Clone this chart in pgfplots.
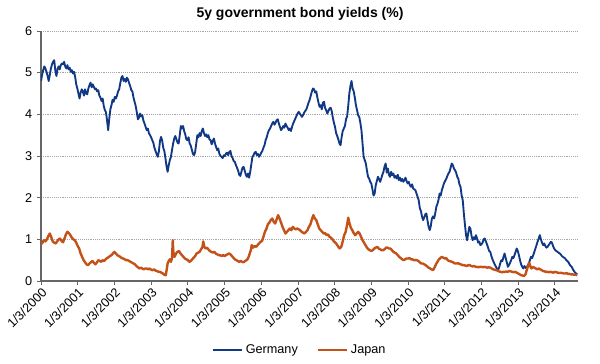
\documentclass[border=0pt]{standalone}
\usepackage{fontspec}
\setmainfont{Liberation Sans}
\usepackage{pgfplots}
\pgfplotsset{compat=1.18}
\definecolor{deblue}{RGB}{16,56,132}
\definecolor{jporange}{RGB}{196,82,24}
\begin{document}
\begin{tikzpicture}
\begin{axis}[
  scale only axis,
  width=402.75pt, height=187.5pt,
  xmin=2000, xmax=2014.63,
  ymin=0, ymax=6,
  ytick={0,1,2,3,4,5,6},
  xtick={2000,2001,2002,2003,2004,2005,2006,2007,2008,2009,2010,2011,2012,2013,2014},
  xticklabels={1/3/2000,1/3/2001,1/3/2002,1/3/2003,1/3/2004,1/3/2005,1/3/2006,1/3/2007,1/3/2008,1/3/2009,1/3/2010,1/3/2011,1/3/2012,1/3/2013,1/3/2014},
  x tick label style={rotate=45, anchor=north east, inner sep=1pt, font=\fontsize{9.5}{11}\selectfont},
  y tick label style={font=\fontsize{9.5}{11}\selectfont},
  /pgf/number format/assume math mode=true,
  axis lines*=left,
  axis line style={draw=black!60, line width=0.8pt},
  tick align=outside,
  major tick length=3pt,
  tick style={draw=black!60, line width=0.6pt},
  ymajorgrids,
  grid style={densely dotted, draw=black!35, line width=0.5pt},
  legend style={draw=none, at={(axis description cs:0.4823,-0.276)}, anchor=center, font=\fontsize{9.5}{11}\selectfont, column sep=0pt, /tikz/every even column/.append style={column sep=12pt}},
  legend columns=2,
  legend image code/.code={\draw[#1] (0pt,0pt) -- (22pt,0pt);},
]
\addplot[deblue, line width=1.4pt, line join=round] coordinates {
(2000.00,4.80)(2000.03,4.95)(2000.06,5.06)(2000.09,5.15)(2000.12,5.10)(2000.15,5.02)(2000.18,4.92)(2000.21,4.80)(2000.24,4.95)(2000.27,5.10)
(2000.30,5.20)(2000.33,5.26)(2000.36,5.30)(2000.39,5.05)(2000.42,4.92)(2000.45,5.08)(2000.48,5.15)(2000.51,5.08)(2000.54,5.18)(2000.57,5.22)
(2000.60,5.20)(2000.63,5.26)(2000.66,5.15)(2000.69,5.10)(2000.72,5.18)(2000.75,5.08)(2000.78,5.12)(2000.81,5.02)(2000.84,5.06)(2000.87,4.98)
(2000.90,5.02)(2000.93,4.90)(2000.96,4.72)(2000.99,4.62)(2001.02,4.50)(2001.05,4.38)(2001.08,4.52)(2001.11,4.60)(2001.14,4.55)(2001.17,4.45)
(2001.20,4.60)(2001.23,4.50)(2001.26,4.48)(2001.29,4.62)(2001.32,4.70)(2001.35,4.76)(2001.38,4.65)(2001.41,4.72)(2001.44,4.66)(2001.47,4.60)
(2001.50,4.62)(2001.53,4.55)(2001.56,4.58)(2001.59,4.45)(2001.62,4.40)(2001.65,4.32)(2001.68,4.38)(2001.71,4.20)(2001.74,4.10)(2001.77,4.05)
(2001.80,3.85)(2001.83,3.62)(2001.86,3.90)(2001.89,4.12)(2001.92,4.22)(2001.95,4.35)(2001.98,4.30)(2002.01,4.42)(2002.04,4.38)(2002.07,4.45)
(2002.10,4.55)(2002.13,4.60)(2002.16,4.75)(2002.19,4.88)(2002.22,4.92)(2002.25,4.80)(2002.28,4.85)(2002.31,4.78)(2002.34,4.88)(2002.37,4.84)
(2002.40,4.75)(2002.43,4.68)(2002.46,4.58)(2002.49,4.55)(2002.52,4.40)(2002.55,4.30)(2002.58,4.20)(2002.61,4.05)(2002.64,3.88)(2002.67,3.92)
(2002.70,4.02)(2002.73,3.95)(2002.76,3.98)(2002.79,3.85)(2002.82,3.78)(2002.85,3.70)(2002.88,3.62)(2002.91,3.66)(2002.94,3.55)(2002.97,3.50)
(2003.00,3.45)(2003.03,3.38)(2003.06,3.32)(2003.09,3.20)(2003.12,3.12)(2003.15,3.05)(2003.18,2.98)(2003.21,3.10)(2003.24,3.35)(2003.27,3.46)
(2003.30,3.38)(2003.33,3.20)(2003.36,3.12)(2003.39,2.95)(2003.42,2.75)(2003.45,2.62)(2003.48,2.78)(2003.51,2.90)(2003.54,2.98)(2003.57,3.15)
(2003.60,3.30)(2003.63,3.42)(2003.66,3.48)(2003.69,3.40)(2003.72,3.32)(2003.75,3.30)(2003.78,3.50)(2003.81,3.72)(2003.84,3.66)(2003.87,3.72)
(2003.90,3.60)(2003.93,3.52)(2003.96,3.40)(2003.99,3.38)(2004.02,3.45)(2004.05,3.30)(2004.08,3.25)(2004.11,3.15)(2004.14,3.05)(2004.17,3.02)
(2004.20,3.10)(2004.23,3.30)(2004.26,3.50)(2004.29,3.45)(2004.32,3.55)(2004.35,3.48)(2004.38,3.60)(2004.41,3.66)(2004.44,3.55)(2004.47,3.48)
(2004.50,3.52)(2004.53,3.45)(2004.56,3.50)(2004.59,3.40)(2004.62,3.38)(2004.65,3.28)(2004.68,3.36)(2004.71,3.42)(2004.74,3.30)(2004.77,3.22)
(2004.80,3.14)(2004.83,3.18)(2004.86,3.05)(2004.89,3.00)(2004.92,2.98)(2004.95,2.95)(2004.98,3.02)(2005.01,3.00)(2005.04,3.06)(2005.07,3.08)
(2005.10,3.02)(2005.13,3.10)(2005.16,3.12)(2005.19,3.00)(2005.22,2.95)(2005.25,2.88)(2005.28,2.86)(2005.31,2.78)(2005.34,2.72)(2005.37,2.65)
(2005.40,2.55)(2005.43,2.52)(2005.46,2.62)(2005.49,2.72)(2005.52,2.74)(2005.55,2.65)(2005.58,2.55)(2005.61,2.50)(2005.64,2.58)(2005.67,2.48)
(2005.70,2.62)(2005.73,2.80)(2005.76,2.98)(2005.79,3.02)(2005.82,3.08)(2005.85,3.10)(2005.88,3.02)(2005.91,3.05)(2005.94,2.98)(2005.97,3.02)
(2006.00,3.08)(2006.03,3.12)(2006.06,3.20)(2006.09,3.26)(2006.12,3.38)(2006.15,3.45)(2006.18,3.55)(2006.21,3.62)(2006.24,3.66)(2006.27,3.72)
(2006.30,3.78)(2006.33,3.82)(2006.36,3.75)(2006.39,3.80)(2006.42,3.86)(2006.45,3.88)(2006.48,3.78)(2006.51,3.70)(2006.54,3.62)(2006.57,3.66)
(2006.60,3.72)(2006.63,3.68)(2006.66,3.78)(2006.69,3.72)(2006.72,3.68)(2006.75,3.62)(2006.78,3.66)(2006.81,3.60)(2006.84,3.70)(2006.87,3.78)
(2006.90,3.84)(2006.93,3.90)(2006.96,3.96)(2006.99,4.02)(2007.02,4.06)(2007.05,4.02)(2007.08,3.98)(2007.11,3.94)(2007.14,3.98)(2007.17,4.04)
(2007.20,4.08)(2007.23,4.12)(2007.26,4.20)(2007.29,4.28)(2007.32,4.35)(2007.35,4.45)(2007.38,4.55)(2007.41,4.62)(2007.44,4.60)(2007.47,4.52)
(2007.50,4.55)(2007.53,4.40)(2007.56,4.28)(2007.59,4.18)(2007.62,4.22)(2007.65,4.12)(2007.68,4.28)(2007.71,4.30)(2007.74,4.15)(2007.77,4.10)
(2007.80,4.02)(2007.83,4.08)(2007.86,4.14)(2007.89,4.16)(2007.92,4.08)(2007.95,3.92)(2007.98,3.80)(2008.01,3.70)(2008.04,3.55)(2008.07,3.48)
(2008.10,3.40)(2008.13,3.30)(2008.16,3.26)(2008.19,3.45)(2008.22,3.60)(2008.25,3.66)(2008.28,3.72)(2008.31,3.88)(2008.34,3.95)(2008.37,4.20)
(2008.40,4.50)(2008.43,4.68)(2008.46,4.80)(2008.49,4.62)(2008.52,4.55)(2008.55,4.40)(2008.58,4.22)(2008.61,4.10)(2008.64,3.98)(2008.67,3.94)
(2008.70,3.80)(2008.73,3.62)(2008.76,3.30)(2008.79,2.98)(2008.82,2.90)(2008.85,2.82)(2008.88,2.65)(2008.91,2.50)(2008.94,2.46)(2008.97,2.38)
(2009.00,2.34)(2009.03,2.20)(2009.06,2.05)(2009.09,2.10)(2009.12,2.30)(2009.15,2.40)(2009.18,2.50)(2009.21,2.45)(2009.24,2.38)(2009.27,2.46)
(2009.30,2.55)(2009.33,2.62)(2009.36,2.75)(2009.39,2.82)(2009.42,2.60)(2009.45,2.70)(2009.48,2.55)(2009.51,2.50)(2009.54,2.62)(2009.57,2.54)
(2009.60,2.58)(2009.63,2.48)(2009.66,2.52)(2009.69,2.46)(2009.72,2.55)(2009.75,2.42)(2009.78,2.48)(2009.81,2.40)(2009.84,2.45)(2009.87,2.38)
(2009.90,2.42)(2009.93,2.48)(2009.96,2.40)(2009.99,2.34)(2010.02,2.38)(2010.05,2.30)(2010.08,2.26)(2010.11,2.32)(2010.14,2.22)(2010.17,2.20)
(2010.20,2.18)(2010.23,2.10)(2010.26,2.02)(2010.29,1.94)(2010.32,1.75)(2010.35,1.68)(2010.38,1.55)(2010.41,1.46)(2010.44,1.52)(2010.47,1.60)
(2010.50,1.62)(2010.53,1.45)(2010.56,1.30)(2010.59,1.22)(2010.62,1.32)(2010.65,1.50)(2010.68,1.55)(2010.71,1.50)(2010.74,1.62)(2010.77,1.78)
(2010.80,1.85)(2010.83,1.95)(2010.86,2.10)(2010.89,2.05)(2010.92,2.18)(2010.95,2.26)(2010.98,2.35)(2011.01,2.40)(2011.04,2.45)(2011.07,2.52)
(2011.10,2.58)(2011.13,2.62)(2011.16,2.72)(2011.19,2.82)(2011.22,2.78)(2011.25,2.70)(2011.28,2.66)(2011.31,2.60)(2011.34,2.50)(2011.37,2.45)
(2011.40,2.32)(2011.43,2.26)(2011.46,2.05)(2011.49,1.94)(2011.52,1.62)(2011.55,1.35)(2011.58,1.10)(2011.61,0.98)(2011.64,1.15)(2011.67,1.30)
(2011.70,1.25)(2011.73,1.08)(2011.76,0.98)(2011.79,1.05)(2011.82,1.00)(2011.85,1.10)(2011.88,1.02)(2011.91,0.92)(2011.94,0.95)(2011.97,0.86)
(2012.00,0.88)(2012.03,0.92)(2012.06,1.00)(2012.09,1.02)(2012.12,0.95)(2012.15,0.88)(2012.18,0.80)(2012.21,0.72)(2012.24,0.70)(2012.27,0.60)
(2012.30,0.52)(2012.33,0.46)(2012.36,0.40)(2012.39,0.35)(2012.42,0.30)(2012.45,0.26)(2012.48,0.32)(2012.51,0.42)(2012.54,0.50)(2012.57,0.48)
(2012.60,0.58)(2012.63,0.66)(2012.66,0.55)(2012.69,0.45)(2012.72,0.34)(2012.75,0.38)(2012.78,0.44)(2012.81,0.50)(2012.84,0.58)(2012.87,0.55)
(2012.90,0.62)(2012.93,0.70)(2012.96,0.78)(2012.99,0.72)(2013.02,0.62)(2013.05,0.50)(2013.08,0.40)(2013.11,0.34)(2013.14,0.30)(2013.17,0.36)
(2013.20,0.32)(2013.23,0.30)(2013.26,0.38)(2013.29,0.42)(2013.32,0.50)(2013.35,0.58)(2013.38,0.55)(2013.41,0.62)(2013.44,0.70)(2013.47,0.78)
(2013.50,0.86)(2013.53,0.95)(2013.56,1.02)(2013.59,1.10)(2013.62,1.00)(2013.65,0.92)(2013.68,0.86)(2013.71,0.90)(2013.74,0.84)(2013.77,0.80)
(2013.80,0.82)(2013.83,0.86)(2013.86,0.90)(2013.89,0.94)(2013.92,0.92)(2013.95,0.84)(2013.98,0.78)(2014.01,0.74)(2014.04,0.72)(2014.07,0.70)
(2014.10,0.68)(2014.13,0.66)(2014.16,0.64)(2014.19,0.60)(2014.22,0.58)(2014.25,0.56)(2014.28,0.54)(2014.31,0.50)(2014.34,0.48)(2014.37,0.45)
(2014.40,0.40)(2014.43,0.36)(2014.46,0.34)(2014.49,0.28)(2014.52,0.24)(2014.55,0.20)(2014.58,0.18)(2014.61,0.16)
};
\addlegendentry{Germany}
\addplot[jporange, line width=1.8pt, line join=round] coordinates {
(2000.00,0.88)(2000.04,0.92)(2000.08,0.98)(2000.12,0.95)(2000.16,1.00)(2000.20,1.08)(2000.24,1.14)(2000.28,1.05)(2000.32,0.95)(2000.36,0.92)
(2000.40,0.90)(2000.44,0.95)(2000.48,1.00)(2000.52,1.02)(2000.56,0.96)(2000.60,0.93)(2000.64,1.02)(2000.68,1.12)(2000.72,1.18)(2000.76,1.15)
(2000.80,1.10)(2000.84,1.04)(2000.88,1.00)(2000.92,0.98)(2000.96,0.92)(2001.00,0.84)(2001.04,0.78)(2001.08,0.66)(2001.12,0.58)(2001.16,0.50)
(2001.20,0.45)(2001.24,0.40)(2001.28,0.38)(2001.32,0.42)(2001.36,0.45)(2001.40,0.48)(2001.44,0.44)(2001.48,0.40)(2001.52,0.44)(2001.56,0.50)
(2001.60,0.48)(2001.64,0.46)(2001.68,0.50)(2001.72,0.48)(2001.76,0.52)(2001.80,0.55)(2001.84,0.57)(2001.88,0.60)(2001.92,0.62)(2001.96,0.66)
(2002.00,0.70)(2002.04,0.66)(2002.08,0.62)(2002.12,0.60)(2002.16,0.58)(2002.20,0.55)(2002.24,0.54)(2002.28,0.52)(2002.32,0.50)(2002.36,0.50)
(2002.40,0.48)(2002.44,0.46)(2002.48,0.44)(2002.52,0.42)(2002.56,0.40)(2002.60,0.36)(2002.64,0.33)(2002.68,0.30)(2002.72,0.32)(2002.76,0.30)
(2002.80,0.28)(2002.84,0.30)(2002.88,0.30)(2002.92,0.28)(2002.96,0.30)(2003.00,0.27)(2003.04,0.26)(2003.08,0.28)(2003.12,0.25)(2003.16,0.24)
(2003.20,0.22)(2003.24,0.22)(2003.28,0.20)(2003.32,0.18)(2003.36,0.15)(2003.40,0.14)(2003.42,0.25)(2003.45,0.42)(2003.48,0.48)(2003.51,0.52)
(2003.54,0.46)(2003.57,0.55)(2003.59,0.98)(2003.61,0.62)(2003.64,0.58)(2003.68,0.66)(2003.72,0.70)(2003.76,0.72)(2003.80,0.66)(2003.84,0.62)
(2003.88,0.58)(2003.92,0.54)(2003.96,0.52)(2004.00,0.50)(2004.04,0.46)(2004.08,0.48)(2004.12,0.52)(2004.16,0.56)(2004.20,0.60)(2004.24,0.66)
(2004.28,0.68)(2004.32,0.70)(2004.36,0.76)(2004.40,0.82)(2004.42,0.95)(2004.45,0.82)(2004.48,0.78)(2004.52,0.80)(2004.56,0.76)(2004.60,0.72)
(2004.64,0.70)(2004.68,0.68)(2004.72,0.70)(2004.76,0.66)(2004.80,0.64)(2004.84,0.62)(2004.88,0.62)(2004.92,0.60)(2004.96,0.62)(2005.00,0.60)
(2005.04,0.62)(2005.08,0.64)(2005.12,0.66)(2005.16,0.64)(2005.20,0.60)(2005.24,0.56)(2005.28,0.52)(2005.32,0.50)(2005.36,0.48)(2005.40,0.46)
(2005.44,0.48)(2005.48,0.46)(2005.52,0.45)(2005.56,0.48)(2005.60,0.50)(2005.64,0.54)(2005.68,0.64)(2005.72,0.75)(2005.74,0.86)(2005.78,0.80)
(2005.82,0.84)(2005.86,0.82)(2005.90,0.86)(2005.94,0.90)(2005.98,0.94)(2006.02,0.96)(2006.06,1.06)(2006.10,1.18)(2006.14,1.25)(2006.18,1.36)
(2006.22,1.40)(2006.26,1.46)(2006.30,1.50)(2006.34,1.42)(2006.38,1.38)(2006.42,1.48)(2006.46,1.58)(2006.50,1.50)(2006.54,1.40)(2006.58,1.30)
(2006.62,1.22)(2006.66,1.14)(2006.70,1.18)(2006.74,1.22)(2006.78,1.26)(2006.82,1.22)(2006.86,1.30)(2006.90,1.26)(2006.94,1.24)(2006.98,1.26)
(2007.02,1.24)(2007.06,1.22)(2007.10,1.18)(2007.14,1.16)(2007.18,1.14)(2007.22,1.18)(2007.26,1.22)(2007.30,1.30)(2007.34,1.36)(2007.38,1.48)
(2007.42,1.58)(2007.46,1.50)(2007.50,1.46)(2007.54,1.36)(2007.58,1.26)(2007.62,1.22)(2007.66,1.18)(2007.70,1.14)(2007.74,1.15)(2007.78,1.10)
(2007.82,1.12)(2007.86,1.06)(2007.90,1.04)(2007.94,1.00)(2007.98,0.95)(2008.02,0.92)(2008.06,0.88)(2008.10,0.82)(2008.14,0.78)(2008.18,0.82)
(2008.22,0.95)(2008.26,1.10)(2008.30,1.18)(2008.34,1.35)(2008.37,1.52)(2008.40,1.40)(2008.44,1.28)(2008.48,1.22)(2008.52,1.15)(2008.56,1.10)
(2008.60,1.14)(2008.64,1.18)(2008.68,1.14)(2008.72,1.06)(2008.76,0.98)(2008.80,0.92)(2008.84,0.86)(2008.88,0.80)(2008.92,0.76)(2008.96,0.74)
(2009.00,0.72)(2009.04,0.74)(2009.08,0.78)(2009.12,0.80)(2009.16,0.82)(2009.20,0.78)(2009.24,0.76)(2009.28,0.74)(2009.32,0.74)(2009.36,0.76)
(2009.40,0.80)(2009.44,0.80)(2009.48,0.78)(2009.52,0.78)(2009.56,0.74)(2009.60,0.70)(2009.64,0.68)(2009.68,0.66)(2009.72,0.62)(2009.76,0.58)
(2009.80,0.55)(2009.84,0.52)(2009.88,0.50)(2009.92,0.52)(2009.96,0.54)(2010.00,0.54)(2010.04,0.55)(2010.08,0.52)(2010.12,0.52)(2010.16,0.50)
(2010.20,0.50)(2010.24,0.50)(2010.28,0.48)(2010.32,0.45)(2010.36,0.42)(2010.40,0.42)(2010.44,0.40)(2010.48,0.38)(2010.52,0.35)(2010.56,0.32)
(2010.60,0.30)(2010.64,0.28)(2010.68,0.26)(2010.72,0.32)(2010.76,0.40)(2010.80,0.46)(2010.84,0.52)(2010.88,0.55)(2010.92,0.58)(2010.96,0.56)
(2011.00,0.54)(2011.04,0.55)(2011.08,0.50)(2011.12,0.48)(2011.16,0.47)(2011.20,0.46)(2011.24,0.44)(2011.28,0.42)(2011.32,0.42)(2011.36,0.43)
(2011.40,0.41)(2011.44,0.40)(2011.48,0.38)(2011.52,0.38)(2011.56,0.37)(2011.60,0.36)(2011.64,0.38)(2011.68,0.38)(2011.72,0.36)(2011.76,0.35)
(2011.80,0.36)(2011.84,0.34)(2011.88,0.34)(2011.92,0.33)(2011.96,0.34)(2012.00,0.34)(2012.04,0.33)(2012.08,0.34)(2012.12,0.33)(2012.16,0.32)
(2012.20,0.33)(2012.24,0.32)(2012.28,0.30)(2012.32,0.28)(2012.36,0.27)(2012.40,0.26)(2012.44,0.25)(2012.48,0.23)(2012.52,0.22)(2012.56,0.21)
(2012.60,0.22)(2012.64,0.22)(2012.68,0.23)(2012.72,0.22)(2012.76,0.24)(2012.80,0.23)(2012.84,0.22)(2012.88,0.21)(2012.92,0.22)(2012.96,0.20)
(2013.00,0.18)(2013.04,0.16)(2013.08,0.14)(2013.12,0.13)(2013.16,0.12)(2013.20,0.16)(2013.24,0.28)(2013.28,0.38)(2013.30,0.44)(2013.33,0.36)
(2013.36,0.30)(2013.40,0.34)(2013.44,0.32)(2013.48,0.30)(2013.52,0.28)(2013.56,0.30)(2013.60,0.28)(2013.64,0.26)(2013.68,0.24)(2013.72,0.23)
(2013.76,0.22)(2013.80,0.22)(2013.84,0.21)(2013.88,0.22)(2013.92,0.21)(2013.96,0.20)(2014.00,0.22)(2014.04,0.21)(2014.08,0.20)(2014.12,0.19)
(2014.16,0.20)(2014.20,0.19)(2014.24,0.18)(2014.28,0.18)(2014.32,0.19)(2014.36,0.17)(2014.40,0.17)(2014.44,0.16)(2014.48,0.16)(2014.52,0.15)
(2014.56,0.15)(2014.61,0.14)
};
\addlegendentry{Japan}
\end{axis}
\node[font=\fontsize{10.5}{12}\bfseries, anchor=center] at (194.25pt,200.25pt) {5y government bond yields (\%)};
\pgfresetboundingbox
\path[use as bounding box] (-30.75pt,-62.25pt) rectangle (419.25pt,210.75pt);
\end{tikzpicture}
\end{document}
